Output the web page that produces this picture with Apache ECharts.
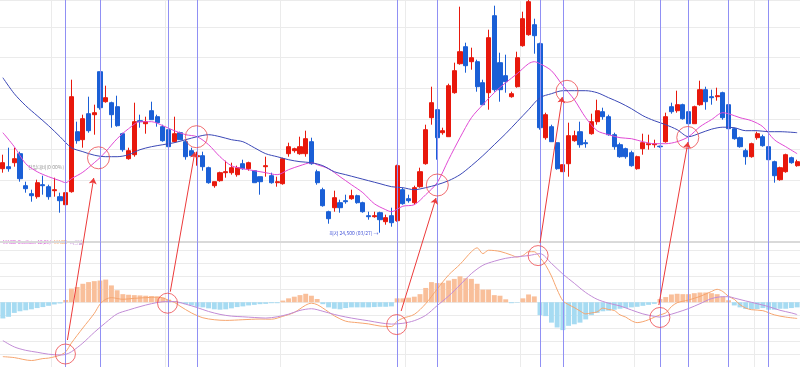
<!DOCTYPE html>
<html>
<head>
<meta charset="utf-8">
<style>
  html, body { margin: 0; padding: 0; background: #fff; }
  #main { width: 800px; height: 367px; }
</style>
<script src="https://cdn.jsdelivr.net/npm/echarts/dist/echarts.min.js"></script>
</head>
<body>
<div id="main"></div>
<script>
// price panel, one row per trading day: [open, close, low, high]
var candles = [
  [73,79,69,87],[75,73,70,94],[79,83,75,94],[88,63,60,90],[56,53,49,60],
  [48,46,40,52],[45,59,43,62],[57,56,47,66],[55,45,42,57],[51,52,45,64],
  [45,41,29,49],[37,49,37,50],[50,145,49,162],[110,101,98,120],[102,123,94,127],
  [128,111,109,145],[127,129,107,137],[170,134,132,170],[140,144,139,156],[139,127,114,140],
  [135,116,115,146],[108,92,90,109],[83,91,82,94],[87,120,85,139],[121,120,114,127],
  [118,120,108,125],[131,122,122,140],[125,119,115,127],[115,101,100,117],[112,95,95,113],
  [100,108,99,125],[109,102,102,110],[100,85,82,102],[91,86,85,94],[85,86,76,90],
  [86,75,71,90],[74,59,58,75],[56,60,54,60],[61,69,60,70],[69,70,64,81],
  [69,74,67,79],[67,74,65,76],[78,73,72,82],[73,79,71,80],[71,59,59,71],
  [65,60,47,65],[75,76,65,85],[66,59,58,69],[59,60,55,65],[58,83,57,84],
  [88,95,85,99],[91,93,89,94],[88,95,87,105],[88,103,85,111],[100,78,77,104],
  [70,59,57,72],[52,36,35,54],[30,23,18,31],[34,44,30,51],[39,34,29,42],
  [41,40,38,47],[43,46,42,52],[46,39,38,47],[39,30,29,40],[26,25,22,30],
  [25,26,24,30],[29,22,9,30],[20,24,17,27],[26,19,15,34],[21,76,20,77],
  [52,38,37,54],[43,41,39,47],[39,54,37,56],[55,70,54,74],[78,112,77,117],
  [124,139,117,155],[132,104,82,132],[109,111,107,114],[105,156,105,158],[149,171,148,179],
  [178,190,177,235],[195,176,169,199],[180,184,172,194],[180,155,150,182],[159,137,137,162],
  [149,204,132,212],[226,152,150,236],[179,152,140,189],[166,160,149,187],[145,148,144,150],
  [155,184,154,190],[196,223,195,230],[207,240,206,242],[217,206,188,223],[198,114,112,199],
  [104,127,102,129],[115,100,100,117],[99,73,72,99],[70,77,70,77],[78,106,65,119],
  [101,106,100,111],[110,97,94,120],[99,98,94,102],[108,120,107,128],[120,131,117,142],
  [130,125,122,134],[125,107,106,127],[107,95,92,109],[97,85,84,99],[93,85,83,94],
  [89,76,75,91],[73,85,72,86],[93,99,87,108],[97,98,92,107],[97,98,94,102],
  [95.5,95,94,96],[100,125,99,129],[135,130,128,139],[131,137,129,151],[137,123,122,138],
  [130,118,117,131],[118,135,118,136],[137,152,136,161],[152,140,132,155],[145,144,137,152],
  [145,146,141,154],[149,124,122,150],[137,113,111,138],[113,103,102,114],[104,95,94,105],
  [91,85,77,93],[85,98,84,99],[104,108,102,110],[105,96,95,107],[95,82,81,96],
  [80,66,59,81],[62,74,61,75],[70,87,69,88],[84,79,78,85],[76,80,75,82]
];

// moving averages: [day, value]
var maShort = [
  [0,109],[2,95],[4,78],[6,70],[8,65],[10,61],[11,59],[12,63],[14,69.5],[16,79],[17,84],[18,90],
  [20,103],[22,113],[24,120],[26,120],[28,116],[30,111],[32,107],[34,105],[36,97],[38,85],
  [40,76],[42,73],[44,71],[46,69],[48,67],[50,72],[52,76],[54,79],[55,77],[57,73],[59,65],
  [61,57],[63,49],[65,38],[67,32],[68,30],[70,35.5],[72,37],[74,47],[76,59],[78,82],[80,104],
  [82,124],[84,137],[86,149],[88,159],[90,168],[92,178],[93,180],[94,178],[96,171],[98,156],
  [100,142],[102,124],[104,111],[106,107],[108,104],[110,103],[112,100],[114,98],[116,98],
  [118,100],[120,105],[122,115],[124,122],[126,129],[127,128],[129,124],[131,121],[133,115],
  [135,102],[137,95],[139,88]
];
var maLong = [
  [0,164],[2,148],[4,136],[6,126],[8,116],[10,105],[12,94],[14,90],[16,86.5],[18,85],[20,85],
  [22,87],[24,92],[26,95],[28,97],[30,99],[32,102],[34,105],[36,107],[38,105],[40,102],[42,100],
  [44,94],[46,88],[48,85],[50,82],[52,80],[54,79],[56,76],[58,70],[60,67],[62,64],[64,61],
  [66,58],[68,55],[70,54],[72,52],[74,54],[76,57],[78,61],[80,67],[82,76],[84,86],[86,97],
  [88,108],[90,120],[92,132],[94,144],[96,148],[98,151],[100,151],[102,151],[104,149],[106,144],
  [108,139],[110,133],[112,126],[114,121],[116,117],[118,112],[120,105],[122,108.5],[124,112.5],
  [126,114.5],[128,114],[130,111],[132,111],[134,110],[136,110],[139,109]
];

// MACD panel
var oscillator = [
  -16.7,-15,-11,-9.3,-8.3,-7.3,-6,-5,-3.7,-2.3,
  -1.3,2.3,14,15.7,19,20.7,21.7,22.3,23.3,17.3,
  12.3,8.3,7.7,7.3,7,6.7,6.3,5.7,4.7,2.7,
  1,-1,-2,-3.3,-4.7,-5.3,-6.3,-7.3,-7.7,-7.3,
  -6.3,-5,-4.3,-3.3,-2.7,-2,-1.7,-1,-1,1.7,
  4,5.7,7.3,8.7,6.7,3.3,-2,-5.3,-6.7,-7.3,
  -6,-5.3,-5.3,-5.3,-5.3,-5,-4.7,-4.7,-4.3,4,
  4,4.7,5.7,8.3,14.7,20.7,19.7,20,22.3,24,
  26.7,24.7,24,19,13,13,7.3,6.7,3,-1,
  -0.5,4,8,6,-13.3,-14.3,-21,-26,-28.7,-24.3,
  -22.7,-21,-17.7,-13.3,-11,-9.3,-8.7,-7.7,-6.7,-6,
  -5.3,-4.7,-3.7,-2.7,-1.7,3.3,5.3,8,8.7,8.3,
  8.3,9.3,10,10,9.3,8.3,5.7,2,-3.3,-5.3,
  -7,-7.3,-7,-6,-7.7,-7.7,-6.7,-6.7,-6,-5.3
];
var macdLine = [
  [0,-56],[2,-57],[5,-60],[7,-58],[8,-57.5],[10,-54.5],[11,-51],[12,-42],[14,-26.5],[16,-11.5],
  [17,-2],[18,3],[19,4.7],[21,3],[23,4],[25,4.7],[27,5.3],[28,4.5],[29,2],[30,0],[31,-4],
  [33,-11],[35,-16],[37,-18],[39,-18.7],[42,-18],[45,-17.3],[47,-17.5],[49,-14.5],[51,-10.5],
  [53,-3],[54,-1],[55,-2.5],[56,-6],[57,-10],[58,-14],[60,-19.5],[62,-21],[64,-22.3],[66,-24.5],
  [68,-25],[69,-19.5],[70,-16.5],[72,-12.5],[74,-1.5],[76,13.5],[78,28],[80,39],[82,52],[83,56],
  [84,50],[85,53.5],[87,52.3],[89,48.5],[90,46.5],[91,48],[92,52],[93,52],[94,46],[95,38],
  [96,27],[97,13],[98,1.5],[99,-2.5],[100,-5.5],[101,-9],[102,-12],[103,-11],[104,-10],
  [105,-6],[106,-7.5],[107,-8.5],[108,-13],[109,-15.3],[110,-19],[111,-21],[112,-20],[113,-18],
  [114,-15.5],[115,-13],[116,-11],[117,-4.5],[118,-0.5],[119,1],[120,2.3],[122,6],[124,11],
  [125,13.3],[126,11],[127,6],[128,3],[129,-2.5],[130,-6],[131,-7.7],[133,-8.7],[135,-13],
  [137,-15.3],[139,-16.7]
];
var signalLine = [
  [0,-39.5],[2,-46],[4,-49.5],[6,-51.5],[8,-53.5],[10,-54.3],[11,-53.7],[12,-51],[14,-42],
  [16,-31],[18,-21],[20,-12],[22,-8],[24,-4.5],[26,-1.5],[28,0.5],[30,0.7],[32,-2],[34,-5.5],
  [36,-9.5],[38,-12.5],[40,-14.3],[42,-15],[44,-15.7],[46,-16.3],[48,-15],[50,-12.3],[52,-8.4],
  [54,-6.7],[56,-9.3],[58,-12.6],[60,-15.2],[62,-17.3],[64,-19.1],[66,-21.2],[68,-22.5],
  [70,-21.7],[72,-19],[74,-13.5],[76,-3.5],[78,6.3],[80,17.8],[82,29.5],[84,38],[86,42.2],
  [88,45.2],[90,46.8],[92,48],[94,50],[96,40],[98,29],[100,19.5],[102,10],[104,3],[106,-1],
  [108,-3.8],[110,-8],[112,-12],[114,-14.5],[115,-15.3],[116,-14],[118,-10.5],[120,-6.5],
  [122,-1.5],[124,3.7],[126,5.7],[127,5.7],[128,4.3],[130,1.3],[132,-1.5],[134,-4.5],
  [136,-8.3],[138,-11],[139,-12.7]
];

// annotations
var signalDays = [11, 17, 29, 34, 69, 76, 94, 98, 115, 120, 127, 134];
var monthStarts = [9, 29, 49, 71, 91, 111, 132];
var priceCrosses = [[16.74, 83.9], [33.87, 105], [76.03, 56.7], [98.73, 150.4], [119.86, 104.2]];
var macdCrosses = [[10.95, -53.3], [28.82, -1], [68.92, -23], [93.67, 48], [114.98, -15.7]];
var arrows = [
  [[11.3, -98.3], [15.9, 63.7]],
  [[29.3, -50], [33.6, 89.7]],
  [[69.7, -69.3], [75.8, 43.7]],
  [[94.0, -1.3], [97.9, 144.7]],
  [[114.8, -63.3], [119.9, 99.7]]
];
var lowDay = 66;
var lowLabel = '최저 24,500 (03/27) →';
var panelTitles = ['MACD Oscillator 12,26,9', 'MACD', '시그널'];

var days = candles.map(function (c, i) { return String(i); });

var chart = echarts.init(document.getElementById('main'));

var gridColor = '#ebebeb';
var font = "'Noto Sans CJK KR', sans-serif";
var latin = "'Liberation Sans', 'Noto Sans CJK KR', sans-serif";

function monthLine(idx) { return monthStarts.indexOf(idx) >= 0; }

var vLines = {
  silent: true,
  symbol: 'none',
  label: { show: false },
  lineStyle: { color: '#9090f4', width: 1, type: 'solid' },
  data: signalDays.map(function (d) { return { xAxis: d }; })
};

var option = {
  animation: false,
  textStyle: { fontFamily: font },
  grid: [
    { left: -1.17, width: 803.04, top: 0, height: 241.7 },
    { left: -1.17, width: 803.04, top: 241.5, height: 129.17 }
  ],
  xAxis: [
    {
      type: 'category', gridIndex: 0, data: days, boundaryGap: true,
      axisLine: { show: true, lineStyle: { color: '#d9d9d9', width: 2 } },
      axisTick: { show: false }, axisLabel: { show: false },
      splitLine: { show: true, interval: monthLine, lineStyle: { color: gridColor } }
    },
    {
      type: 'category', gridIndex: 1, data: days, boundaryGap: true,
      axisLine: { show: false }, axisTick: { show: false }, axisLabel: { show: false },
      splitLine: { show: true, interval: monthLine, lineStyle: { color: gridColor } }
    },
    { type: 'value', gridIndex: 0, min: -0.5, max: 139.5, show: false },
    { type: 'value', gridIndex: 1, min: -0.5, max: 139.5, show: false }
  ],
  yAxis: [
    {
      type: 'value', gridIndex: 0, min: 0, max: 241.7, interval: 30.7,
      axisLine: { show: false }, axisTick: { show: false }, axisLabel: { show: false },
      splitLine: { lineStyle: { color: gridColor } }
    },
    {
      type: 'value', gridIndex: 1, min: -200 / 3, max: 62.5, interval: 40 / 3,
      axisLine: { show: false }, axisTick: { show: false }, axisLabel: { show: false },
      splitLine: { lineStyle: { color: gridColor } }
    }
  ],
  graphic: [
    {
      type: 'text', left: 28, top: 165, silent: true,
      style: { text: '전일대비(0.00%)', fill: '#9a9a9a', font: '5px ' + font }
    },
    {
      type: 'text', left: 3, top: 240.5, silent: true,
      style: { text: panelTitles[0], fill: '#d85ad8', font: '4.5px ' + latin }
    },
    {
      type: 'text', left: 54, top: 240.5, silent: true,
      style: { text: panelTitles[1], fill: '#f5a46c', font: '4.5px ' + latin }
    },
    {
      type: 'text', left: 70, top: 240, silent: true,
      style: { text: panelTitles[2], fill: '#b97ad2', font: '4.5px ' + font }
    }
  ],
  series: [
    {
      name: '주가', type: 'candlestick', xAxisIndex: 0, yAxisIndex: 0,
      data: candles, barWidth: '80%',
      itemStyle: {
        color: '#e8180c', color0: '#1a5fd6',
        borderColor: '#e8180c', borderColor0: '#1a5fd6', borderWidth: 1
      },
      markLine: vLines,
      markPoint: {
        silent: true,
        symbol: 'circle', symbolSize: 1,
        itemStyle: { color: 'rgba(0,0,0,0)' },
        label: {
          show: true, position: 'left', distance: 1,
          color: '#4657d8', fontSize: 5, fontFamily: font,
          formatter: lowLabel
        },
        data: [{ coord: [lowDay, candles[lowDay][2]] }]
      }
    },
    {
      name: '단기이평', type: 'line', xAxisIndex: 2, yAxisIndex: 0,
      data: maShort, smooth: 0.3, showSymbol: false, silent: true,
      lineStyle: { color: '#e04ad4', width: 1 }
    },
    {
      name: '장기이평', type: 'line', xAxisIndex: 2, yAxisIndex: 0,
      data: maLong, smooth: 0.3, showSymbol: false, silent: true,
      lineStyle: { color: '#3b48b6', width: 1 }
    },
    {
      name: panelTitles[0], type: 'bar', xAxisIndex: 1, yAxisIndex: 1,
      data: oscillator, barCategoryGap: '14%', silent: true,
      itemStyle: {
        color: function (p) { return p.value >= 0 ? '#f9bf9a' : '#a6dbf2'; }
      },
      markLine: vLines
    },
    {
      name: panelTitles[1], type: 'line', xAxisIndex: 3, yAxisIndex: 1,
      data: macdLine, smooth: 0.3, showSymbol: false, silent: true,
      lineStyle: { color: '#f6a56f', width: 1 }
    },
    {
      name: panelTitles[2], type: 'line', xAxisIndex: 3, yAxisIndex: 1,
      data: signalLine, smooth: 0.3, showSymbol: false, silent: true,
      lineStyle: { color: '#c28cd6', width: 1 }
    },
    {
      name: 'cross-price', type: 'scatter', xAxisIndex: 2, yAxisIndex: 0,
      data: priceCrosses, symbol: 'circle', symbolSize: 22, silent: true, z: 8,
      itemStyle: { color: 'rgba(0,0,0,0)', borderColor: '#ec4a4e', borderWidth: 1 }
    },
    {
      name: 'cross-macd', type: 'scatter', xAxisIndex: 3, yAxisIndex: 1,
      data: macdCrosses, symbol: 'circle', symbolSize: 20, silent: true, z: 8,
      itemStyle: { color: 'rgba(0,0,0,0)', borderColor: '#ec4a4e', borderWidth: 1 }
    },
    {
      name: 'arrows', type: 'lines', coordinateSystem: 'cartesian2d',
      xAxisIndex: 2, yAxisIndex: 0, clip: false, silent: true, z: 9,
      symbol: ['none', 'arrow'], symbolSize: 6,
      lineStyle: { color: '#ec3a3a', width: 1, opacity: 1, curveness: 0 },
      data: arrows.map(function (a) { return { coords: a }; })
    }
  ]
};

chart.setOption(option);
</script>
</body>
</html>
